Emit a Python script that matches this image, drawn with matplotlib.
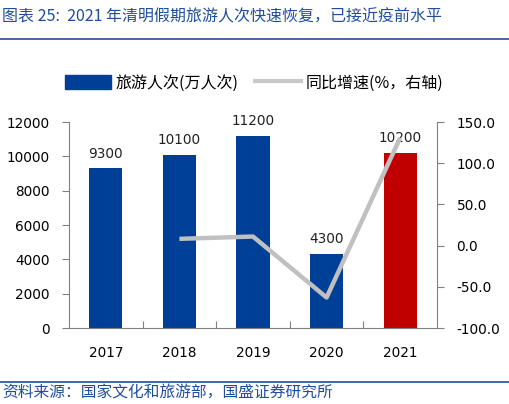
import matplotlib
matplotlib.use("Agg")
import matplotlib.pyplot as plt
from matplotlib.patches import Patch
from matplotlib.lines import Line2D

years = ["2017", "2018", "2019", "2020", "2021"]
visits = [9300, 10100, 11200, 4300, 10200]
growth = [None, 8.2, 11.0, -63.0, 131.0]
bar_labels = ["9300", "10100", "11200", "4300", "10200"]

plt.rcParams['font.family'] = ['DejaVu Sans', 'Noto Sans CJK SC']
CJK = ['Noto Sans CJK SC', 'DejaVu Sans']

W, H = 510, 404
fig = plt.figure(figsize=(W/100, H/100), dpi=100)
ax = fig.add_axes([69/W, 1-328/H, (437-69)/W, (328-122)/H])
ax2 = ax.twinx()

blue = "#003F98"
red = "#C00000"
colors = [blue]*4 + [red]
x = list(range(len(years)))
ax.bar(x, visits, width=0.45, color=colors, zorder=2)
for xi, v, lab in zip(x, visits, bar_labels):
    ax.text(xi, v + 450, lab, ha='center', va='bottom', fontsize=9.8, color='#222222')

ax.set_xlim(-0.5, 4.5)
ax.set_ylim(0, 12000)
ax.set_yticks(range(0, 12001, 2000))
ax.set_xticks([i + 0.5 for i in range(4)])
ax.set_xticklabels([])
ax.set_xticks(x, minor=True)
ax.set_xticklabels(years, minor=True)
ax.tick_params(axis='x', which='major', direction='in', length=5, color='#808080')
ax.tick_params(axis='x', which='minor', length=0, labelsize=9.8, pad=13)
ax.tick_params(axis='y', direction='out', length=5, color='#808080', labelsize=9.8, pad=9)

gx = [xi for xi, g in zip(x, growth) if g is not None]
gy = [g for g in growth if g is not None]
ax2.plot(gx, gy, color='#C0C0C0', lw=3.2, zorder=3, solid_capstyle='butt')
ax2.set_ylim(-100, 150)
ax2.set_yticks(range(-100, 151, 50))
ax2.set_yticklabels([f"{v:.1f}" for v in range(-100, 151, 50)])
ax2.tick_params(axis='y', direction='out', length=5, color='#808080', labelsize=9.8, pad=9)

for a in (ax, ax2):
    a.spines['top'].set_visible(False)
    for s in ('left', 'right', 'bottom'):
        a.spines[s].set_color('#808080')
        a.spines[s].set_linewidth(0.8)
ax.spines['right'].set_visible(False)
ax2.spines['left'].set_visible(False)
ax2.spines['bottom'].set_visible(False)

handles = [Patch(facecolor=blue, edgecolor=blue),
           Line2D([0], [0], color='#C8C8C8', lw=3)]
leg = fig.legend(handles, ["旅游人次(万人次)", "同比增速(%，右轴)"],
                 loc='center', bbox_to_anchor=(254/W, 1-83/H), ncol=2, frameon=False,
                 prop={'family': CJK, 'size': 11.5}, handlelength=2.9, handleheight=0.9,
                 columnspacing=1.0, handletextpad=0.3)

title_color = "#1F4E9C"
fig.text(2/W, 1-17/H, "图表 25:  2021 年清明假期旅游人次快速恢复，已接近疫前水平",
         fontsize=11.5, color=title_color, family=CJK, style='italic', va='center', ha='left')
fig.add_artist(Line2D([0, 1], [1-39/H, 1-39/H], color=title_color, lw=1.2))
fig.add_artist(Line2D([0, 1], [1-382/H, 1-382/H], color=title_color, lw=1.2))
fig.text(2/W, 1-393/H, "资料来源：国家文化和旅游部，国盛证券研究所",
         fontsize=11.3, color=title_color, family=CJK, style='italic', va='center', ha='left')

fig.savefig("out.png", dpi=100)
